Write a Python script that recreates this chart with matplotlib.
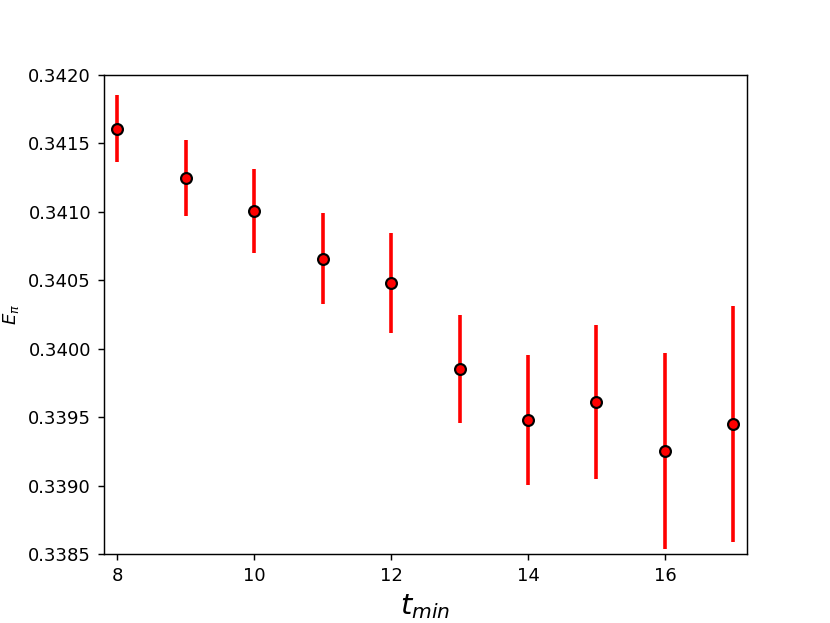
import numpy as np
import matplotlib
matplotlib.use('Agg')
import matplotlib.pyplot as plt

# t_min 与拟合能量及误差
t_min = [8, 9, 10, 11, 12, 13, 14, 15, 16, 17]
E_pi = [0.341605, 0.341247, 0.341006, 0.340656, 0.340480,
        0.339852, 0.339479, 0.339611, 0.339253, 0.339450]
E_err = [0.000245, 0.000280, 0.000310, 0.000332, 0.000365,
         0.000395, 0.000475, 0.000563, 0.000715, 0.000862]

fig = plt.figure(figsize=(830 / 130, 623 / 130), dpi=130)
ax = fig.add_subplot(1, 1, 1)
ax.errorbar(t_min, E_pi, yerr=E_err, fmt='o', color='red', ecolor='red',
            elinewidth=2, markersize=6, markeredgecolor='black',
            markeredgewidth=1.2, capsize=0)
ax.set_xlim(7.8, 17.2)
ax.set_ylim(0.3385, 0.3420)
ax.set_xticks([8, 10, 12, 14, 16])
yt = np.arange(0.3385, 0.34201, 0.0005)
ax.set_yticks(yt)
ax.set_yticklabels(['%.4f' % v for v in yt])
ax.set_xlabel(r'$t_{min}$', fontsize=16)
ax.set_ylabel(r'$E_\pi$')
fig.savefig('out.png', dpi=130)
